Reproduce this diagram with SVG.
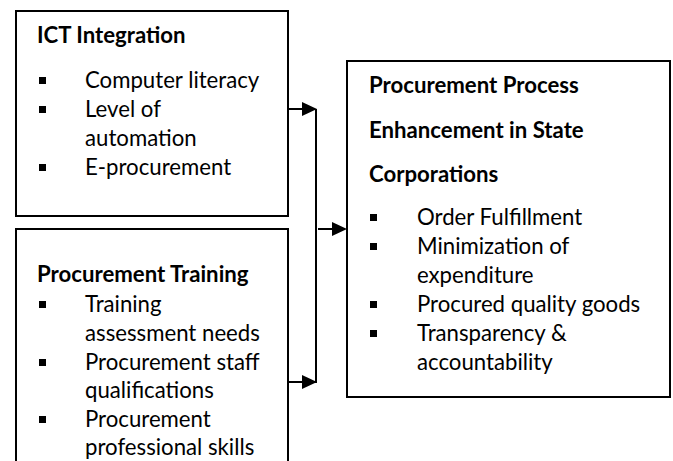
<svg xmlns="http://www.w3.org/2000/svg" width="673" height="461" viewBox="0 0 673 461">
  <defs>
    <style>
      .box { fill: #ffffff; stroke: #000000; stroke-width: 2; }
      .line { fill: none; stroke: #000000; stroke-width: 2; }
      .head { fill: #000000; }
      .title { font-family: Lato, "Open Sans", "Liberation Sans", sans-serif; font-size: 22.2px; font-weight: bold; fill: #000000; }
      .item { font-family: Lato, "Open Sans", "Liberation Sans", sans-serif; font-size: 22.2px; fill: #000000; }
      .bullet { fill: #000000; }
    </style>
  </defs>
  <rect width="673" height="461" fill="#ffffff"/>

  <!-- ICT Integration -->
  <g id="ict-integration">
    <rect class="box" x="16" y="11" width="272" height="205"/>
    <text class="title" x="37" y="43">ICT Integration</text>
    <rect class="bullet" x="39" y="77" width="7" height="7"/>
    <text class="item" x="85" y="88">Computer literacy</text>
    <rect class="bullet" x="39" y="106" width="7" height="7"/>
    <text class="item" x="85" y="117">Level of</text>
    <text class="item" x="85" y="146">automation</text>
    <rect class="bullet" x="39" y="164" width="7" height="7"/>
    <text class="item" x="85" y="175">E-procurement</text>
  </g>

  <!-- Procurement Training -->
  <g id="procurement-training">
    <rect class="box" x="16" y="229" width="272" height="250"/>
    <text class="title" x="37" y="282">Procurement Training</text>
    <rect class="bullet" x="39" y="301" width="7" height="7"/>
    <text class="item" x="85" y="312">Training</text>
    <text class="item" x="85" y="341">assessment needs</text>
    <rect class="bullet" x="39" y="359" width="7" height="7"/>
    <text class="item" x="85" y="370">Procurement staff</text>
    <text class="item" x="85" y="398">qualifications</text>
    <rect class="bullet" x="39" y="416" width="7" height="7"/>
    <text class="item" x="85" y="427">Procurement</text>
    <text class="item" x="85" y="455">professional skills</text>
  </g>

  <!-- Procurement Process Enhancement -->
  <g id="process-enhancement">
    <rect class="box" x="347" y="61" width="323" height="336"/>
    <text class="title" x="369" y="93">Procurement Process</text>
    <text class="title" x="369" y="138">Enhancement in State</text>
    <text class="title" x="369" y="182">Corporations</text>
    <rect class="bullet" x="370" y="214" width="7" height="7"/>
    <text class="item" x="417" y="225">Order Fulfillment</text>
    <rect class="bullet" x="370" y="243" width="7" height="7"/>
    <text class="item" x="417" y="254">Minimization of</text>
    <text class="item" x="417" y="283">expenditure</text>
    <rect class="bullet" x="370" y="301" width="7" height="7"/>
    <text class="item" x="417" y="312">Procured quality goods</text>
    <rect class="bullet" x="370" y="330" width="7" height="7"/>
    <text class="item" x="417" y="341">Transparency &amp;</text>
    <text class="item" x="417" y="370">accountability</text>
  </g>

  <!-- Connectors -->
  <g id="connectors">
    <line class="line" x1="289" y1="109" x2="304" y2="109"/>
    <polygon class="head" points="302,102 317,109 302,116"/>
    <line class="line" x1="316" y1="109" x2="316" y2="383"/>
    <line class="line" x1="289" y1="382" x2="304" y2="382"/>
    <polygon class="head" points="302,375 317,382 302,389"/>
    <line class="line" x1="318" y1="229" x2="334" y2="229"/>
    <polygon class="head" points="332,222 347,229 332,236"/>
  </g>
</svg>
